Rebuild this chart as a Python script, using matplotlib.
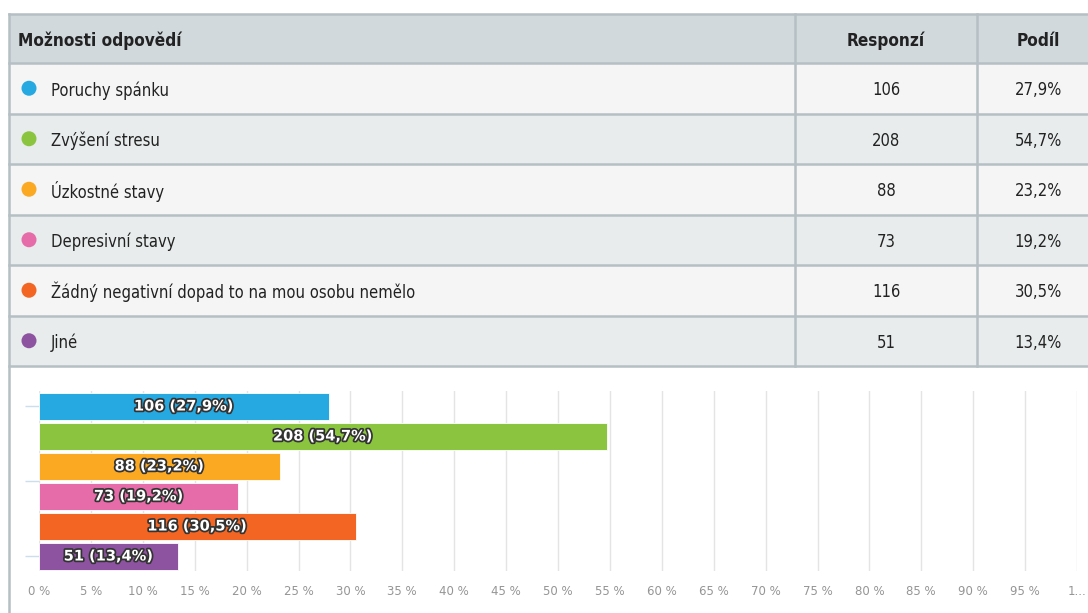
import matplotlib
matplotlib.use("Agg")
import matplotlib.pyplot as plt
import matplotlib.patheffects as pe
from matplotlib.patches import Rectangle, Circle
import numpy as np

# data
labels = ["Poruchy spánku", "Zvýšení stresu", "Úzkostné stavy", "Depresivní stavy",
          "Žádný negativní dopad to na mou osobu nemělo", "Jiné"]
counts = [106, 208, 88, 73, 116, 51]
shares = [27.9, 54.7, 23.2, 19.2, 30.5, 13.4]
colors = ["#25A9E0", "#8BC540", "#FBA922", "#E66CA9", "#F26522", "#8E53A0"]
headers = ["Možnosti odpovědí", "Responzí", "Podíl"]
tick_vals = list(range(0, 101, 5))
tick_labels = ["%d %%" % v for v in tick_vals[:-1]] + ["1..."]

FONT = "DejaVu Sans"
W, H = 1088, 613

def czfmt(v):
    return ("%.1f" % v).replace(".", ",")

fig = plt.figure(figsize=(W / 100, H / 100), dpi=100)

# table drawn in pixel coords on a full-figure axes
tab = fig.add_axes([0, 0, 1, 1])
tab.set_xlim(0, W)
tab.set_ylim(H, 0)
tab.axis("off")

border = "#B5BFC4"
top, head_h, row_h = 14, 49, 50.5
x0, c1, c2, x3 = 9, 795, 977, 1095
fs = 11.9

tab.add_patch(Rectangle((x0, top), x3 - x0, head_h, fc="#D1D9DD", ec="none"))
for i in range(len(labels)):
    y = top + head_h + i * row_h
    fc = "#F5F5F5" if i % 2 == 0 else "#E8ECED"
    tab.add_patch(Rectangle((x0, y), x3 - x0, row_h, fc=fc, ec="none"))
ybot = top + head_h + len(labels) * row_h
# horizontal lines
for y in [top, top + head_h] + [top + head_h + i * row_h for i in range(1, len(labels) + 1)]:
    tab.plot([x0, x3], [y, y], color=border, lw=1.8)
for x in [c1, c2]:
    tab.plot([x, x], [top, ybot], color=border, lw=1.8)
tab.plot([x0, x0], [top, H], color=border, lw=1.8)

hy = top + head_h / 2 + 2
tab.text(18, hy, headers[0], fontsize=fs + 0.4, fontweight="bold",
         family=FONT, fontstretch="condensed", va="center", ha="left", color="#222222")
tab.text((c1 + c2) / 2, hy, headers[1], fontsize=fs + 0.4, fontweight="bold",
         family=FONT, fontstretch="condensed", va="center", ha="center", color="#222222")
tab.text((c2 + 1100) / 2, hy, headers[2], fontsize=fs + 0.4, fontweight="bold",
         family=FONT, fontstretch="condensed", va="center", ha="center", color="#222222")

for i, lab in enumerate(labels):
    yc = top + head_h + i * row_h + row_h / 2 + 2
    tab.add_patch(Circle((29, yc - 2), 7.5, fc=colors[i], ec="none"))
    tab.text(51, yc, lab, fontsize=fs, family=FONT, fontstretch="condensed",
             va="center", ha="left", color="#222222")
    tab.text((c1 + c2) / 2, yc, str(counts[i]), fontsize=fs, family=FONT,
             fontstretch="condensed", va="center", ha="center", color="#222222")
    tab.text((c2 + 1100) / 2, yc, czfmt(shares[i]) + "%", fontsize=fs, family=FONT,
             fontstretch="condensed", va="center", ha="center", color="#222222")

# bar chart
ax = fig.add_axes([39 / W, 1 - 571 / H, (1077 - 39) / W, 180 / H])
ypos = np.arange(len(labels))
ax.barh(ypos, shares, height=0.9, color=colors, edgecolor="white", lw=0.6, zorder=3)
ax.set_xlim(0, 100)
ax.set_ylim(len(labels) - 0.5, -0.5)
ax.set_xticks(tick_vals)
ax.set_xticklabels(tick_labels, fontsize=8.5, color="#959595", family=FONT)
ax.tick_params(axis="x", length=0, pad=10)
ax.set_yticks([0, 2.5, 5])
ax.set_yticklabels([])
ax.tick_params(axis="y", length=10, color="#CCDDEE", width=1)
ax.grid(axis="x", color="#E4E4E4", lw=1, zorder=0)
for s in ax.spines.values():
    s.set_visible(False)

for i in ypos:
    t = ax.text(shares[i] / 2, i, "%d (%s%%)" % (counts[i], czfmt(shares[i])),
                ha="center", va="center", fontsize=10.5, fontweight="bold",
                color="white", family=FONT, zorder=4)
    t.set_path_effects([pe.withStroke(linewidth=2.5, foreground="#333333")])

fig.savefig("out.png", dpi=100)
